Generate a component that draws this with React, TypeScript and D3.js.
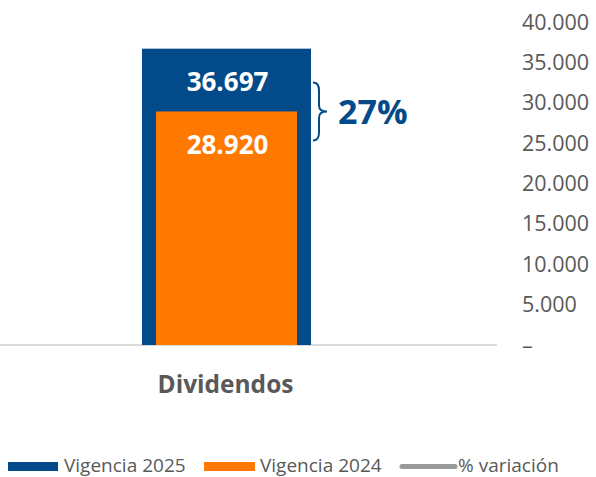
import React from 'react'
import * as d3 from 'd3'

const categories = ['Dividendos']
const vigencia2025 = [36697]
const vigencia2024 = [28920]
const yTicks = [0, 5000, 10000, 15000, 20000, 25000, 30000, 35000, 40000]
const legendItems = ['Vigencia 2025', 'Vigencia 2024', '% variación']

const BLUE = '#034a8a'
const ORANGE = '#ff7800'
const GRAY = '#595959'
const FONT = '"Open Sans", "Noto Sans", sans-serif'

const fmt = (v: number) => (v === 0 ? '–' : d3.format(',')(v).replace(/,/g, '.'))

export default function App() {
  const width = 596
  const height = 477
  const y = d3.scaleLinear().domain([0, 40000]).range([345, 22])
  const x = d3.scaleBand().domain(categories).range([0, 453]).paddingInner(0).paddingOuter(0.84)
  const inset = 14

  return (
    <svg width={width} height={height} style={{ position: 'absolute', left: 0, top: 0 }} fontFamily={FONT}>
      {/* baseline */}
      <line x1={0} x2={497} y1={y(0)} y2={y(0)} stroke="#d9d9d9" strokeWidth={2} />

      {/* y axis labels on the right */}
      {yTicks.map(t => (
        <text key={t} x={522} y={y(t)} dy="0.35em" fontSize={21.5} fill={GRAY}>
          {fmt(t)}
        </text>
      ))}

      {categories.map((c, i) => {
        const x0 = x(c) as number
        const bw = x.bandwidth()
        const cx = x0 + bw / 2
        const top25 = y(vigencia2025[i])
        const top24 = y(vigencia2024[i])
        const pct = Math.round((vigencia2025[i] / vigencia2024[i] - 1) * 100)
        const bx = x0 + bw + 2
        const by0 = top24 - 29
        const by1 = top24 + 29
        const brace = `M${bx},${by0} Q${bx + 6},${by0} ${bx + 6},${by0 + 8} L${bx + 6},${top24 - 6} Q${bx + 6},${top24} ${bx + 14},${top24} Q${bx + 6},${top24} ${bx + 6},${top24 + 6} L${bx + 6},${by1 - 8} Q${bx + 6},${by1} ${bx},${by1}`
        return (
          <g key={c}>
            <rect x={x0} y={top25} width={bw} height={y(0) - top25} fill={BLUE} />
            <rect x={x0 + inset} y={top24} width={bw - inset * 2} height={y(0) - top24} fill={ORANGE} />
            <text x={cx + 1} y={top25 + 42} textAnchor="middle" fontSize={26} fontWeight={700} fill="#fff">
              {fmt(vigencia2025[i])}
            </text>
            <text x={cx + 1} y={top24 + 43} textAnchor="middle" fontSize={26} fontWeight={700} fill="#fff">
              {fmt(vigencia2024[i])}
            </text>
            <path d={brace} fill="none" stroke={BLUE} strokeWidth={2} />
            <text x={bx + 25} y={top24} dy="0.36em" fontSize={34} fontWeight={700} fill={BLUE}>
              {pct}%
            </text>
            <text x={cx - 1} y={393} textAnchor="middle" fontSize={24.5} fontWeight={700} fill={GRAY}>
              {c}
            </text>
          </g>
        )
      })}

      {/* legend */}
      <g>
        <rect x={8} y={462} width={50} height={9} fill={BLUE} />
        <text x={64} y={472} fontSize={19} fill={GRAY}>{legendItems[0]}</text>
        <rect x={204} y={462} width={51} height={9} fill={ORANGE} />
        <text x={260} y={472} fontSize={19} fill={GRAY}>{legendItems[1]}</text>
        <line x1={402} x2={455} y1={466.5} y2={466.5} stroke="#999" strokeWidth={5} strokeLinecap="round" />
        <text x={458} y={472} fontSize={19} fill={GRAY}>{legendItems[2]}</text>
      </g>
    </svg>
  )
}
